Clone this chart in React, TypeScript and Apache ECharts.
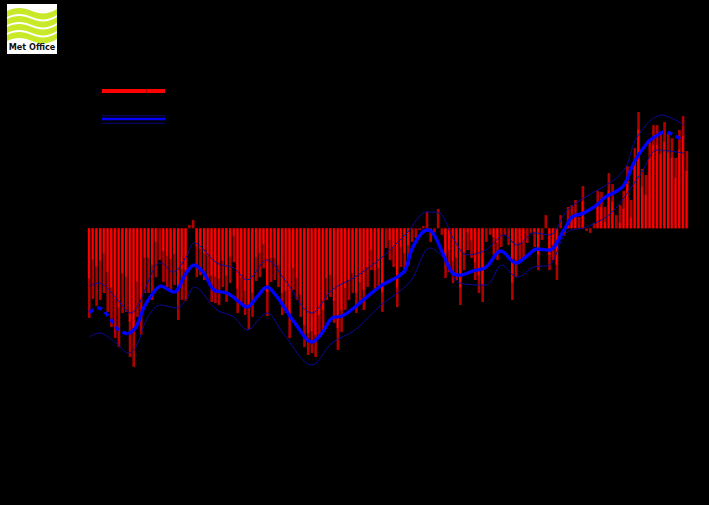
import React, { useEffect, useRef } from "react";
import * as echarts from "echarts";

// ---------- DATA ----------
const firstYear = 1850;
const lastYear = 2011;

// annual anomaly (°C, full extent of each bar)
const anomaly = [
  -0.408, -0.321, -0.353, -0.326, -0.294, -0.38, -0.449, -0.499, -0.54, -0.385,
  -0.38, -0.585, -0.63, -0.403, -0.485, -0.294, -0.294, -0.326, -0.222, -0.144,
  -0.244, -0.267, -0.28, -0.258, -0.417, -0.326, -0.33, 0.015, 0.038, -0.222,
  -0.213, -0.235, -0.244, -0.335, -0.34, -0.349, -0.267, -0.335, -0.249, -0.154,
  -0.385, -0.335, -0.394, -0.462, -0.403, -0.24, -0.222, -0.183, -0.399, -0.244,
  -0.235, -0.267, -0.394, -0.385, -0.499, -0.28, -0.326, -0.403, -0.54, -0.576,
  -0.567, -0.585, -0.494, -0.471, -0.326, -0.312, -0.43, -0.553, -0.471, -0.371,
  -0.326, -0.294, -0.385, -0.335, -0.371, -0.267, -0.19, -0.28, -0.271, -0.38,
  -0.09, -0.144, -0.176, -0.358, -0.176, -0.203, -0.167, -0.062, -0.044, -0.008,
  0.01, 0.074, -0.062, -0.017, 0.088, -0.03, -0.226, -0.199, -0.249, -0.235,
  -0.349, -0.19, -0.099, -0.135, -0.235, -0.294, -0.335, -0.062, -0.03, -0.121,
  -0.144, -0.085, -0.03, -0.076, -0.326, -0.222, -0.144, -0.144, -0.067, -0.021,
  -0.085, -0.19, -0.053, 0.06, -0.19, -0.144, -0.235, 0.06, -0.03, 0.097,
  0.106, 0.129, 0.051, 0.192, -0.012, -0.021, 0.024, 0.17, 0.165, 0.097,
  0.251, 0.201, 0.06, 0.106, 0.17, 0.283, 0.129, 0.365, 0.529, 0.27,
  0.242, 0.406, 0.469, 0.469, 0.429, 0.483, 0.433, 0.41, 0.32, 0.447,
  0.51, 0.351,
];

// uncertainty (°C) for each decade starting 1850
const uncertaintyByDecade = [
  0.18, 0.16, 0.14, 0.12, 0.11, 0.1, 0.1, 0.09, 0.09, 0.1, 0.08, 0.08, 0.07,
  0.07, 0.08, 0.09, 0.09,
];

// smoothed curve
const smoothYears = [
  1850.0, 1852.6, 1855.3, 1858.0, 1860.5, 1862.6, 1864.8, 1867.2, 1869.3,
  1872.8, 1876.1, 1878.3, 1880.9, 1883.6, 1887.1, 1889.8, 1892.5, 1895.2,
  1897.9, 1900.6, 1902.5, 1905.4, 1910.0, 1912.7, 1915.4, 1918.1, 1921.6,
  1925.4, 1928.9, 1932.9, 1935.1, 1937.2, 1941.0, 1942.6, 1945.3, 1947.7,
  1949.9, 1953.4, 1956.9, 1960.9, 1965.0, 1967.9, 1970.6, 1973.9, 1977.9,
  1980.1, 1983.3, 1986.8, 1989.0, 1991.7, 1994.1, 1996.8, 2000.3, 2002.2,
  2003.5, 2004.9, 2009.5, 2010.2,
];
const smoothValues = [
  -0.381, -0.362, -0.403, -0.463, -0.481, -0.449, -0.358, -0.294, -0.263,
  -0.29, -0.204, -0.167, -0.204, -0.28, -0.294, -0.326, -0.358, -0.312,
  -0.267, -0.312, -0.358, -0.43, -0.517, -0.476, -0.408, -0.399, -0.358,
  -0.303, -0.258, -0.222, -0.19, -0.085, -0.008, -0.021, -0.115, -0.199,
  -0.213, -0.194, -0.176, -0.103, -0.158, -0.126, -0.094, -0.099, -0.008,
  0.051, 0.07, 0.106, 0.142, 0.165, 0.197, 0.301, 0.388, 0.415,
  0.428, 0.438, 0.406, 0.401,
];

// upper bound of smoothed curve
const upperYears = [
  1850.0, 1852.6, 1855.3, 1859.9, 1861.0, 1868.0, 1869.3, 1872.6, 1876.1,
  1878.3, 1884.4, 1889.0, 1892.5, 1897.9, 1902.5, 1910.0, 1915.4, 1921.6,
  1928.9, 1935.6, 1941.0, 1944.2, 1948.3, 1951.8, 1956.9, 1961.8, 1965.3,
  1969.8, 1973.9, 1978.8, 1983.3, 1991.4, 1994.6, 1997.6, 2004.3, 2010.2,
];
const upperValues = [
  -0.262, -0.249, -0.28, -0.371, -0.385, -0.167, -0.158, -0.199, -0.131,
  -0.067, -0.158, -0.181, -0.235, -0.144, -0.23, -0.385, -0.28, -0.222,
  -0.131, -0.021, 0.074, 0.07, -0.053, -0.121, -0.099, -0.03, -0.076,
  -0.021, -0.03, 0.083, 0.138, 0.22, 0.279, 0.415, 0.515, 0.469,
];

// lower bound of smoothed curve
const lowerYears = [
  1850.0, 1852.6, 1857.2, 1860.5, 1862.6, 1865.8, 1869.3, 1873.4, 1876.1,
  1878.3, 1884.4, 1889.0, 1892.5, 1897.9, 1902.2, 1910.0, 1915.4, 1921.6,
  1928.6, 1936.4, 1941.8, 1945.3, 1949.9, 1956.9, 1961.2, 1965.3, 1969.8,
  1973.9, 1978.5, 1983.9, 1990.6, 1998.7, 2003.0, 2010.2,
];
const lowerValues = [
  -0.494, -0.476, -0.521, -0.567, -0.54, -0.403, -0.349, -0.362, -0.326,
  -0.267, -0.371, -0.403, -0.462, -0.385, -0.476, -0.621, -0.521, -0.462,
  -0.349, -0.244, -0.09, -0.131, -0.249, -0.258, -0.167, -0.222, -0.176,
  -0.167, -0.021, 0.006, 0.07, 0.251, 0.356, 0.342,
];

const dashedBefore = 1860.5;
const dashedAfter = 2003.5;

const legendLabels = ["Annual average", "Smoothed average with uncertainty range"];
const yAxisName = "Temperature difference (°C) from 1961-1990";

// ---------- LOGO SHAPE ----------
function wavePath(): string {
  const bands = [1, 9, 17, 25];
  return bands
    .map(
      (y0) =>
        `M0 ${y0 + 4} C8 ${y0} 16 ${y0} 25 ${y0 + 4} C34 ${y0 + 8} 42 ${y0 + 7} 50 ${y0 + 2} ` +
        `L50 ${y0 + 8} C42 ${y0 + 13} 34 ${y0 + 14} 25 ${y0 + 10} C16 ${y0 + 6} 8 ${y0 + 6} 0 ${y0 + 10} Z`
    )
    .join(" ");
}
let registered = false;
function registerLogo() {
  if (registered) return;
  registered = true;
  echarts.graphic.registerShape("mowave", echarts.graphic.extendPath(wavePath(), {}) as any);
}

export default function App() {
  const ref = useRef<HTMLDivElement>(null);

  useEffect(() => {
    document.body.style.margin = "0";
    document.body.style.background = "#000";
    registerLogo();
    const chart = echarts.init(ref.current as HTMLDivElement, undefined, { renderer: "svg" });

    const barData = anomaly.map((v, i) => {
      const yr = firstYear + i;
      return [yr, v, uncertaintyByDecade[Math.floor(i / 10)]];
    });
    const smoothPts = smoothYears.map((y, i) => [y, smoothValues[i]]);
    const early = smoothPts.filter((p) => p[0] <= dashedBefore);
    const middle = smoothPts.filter((p) => p[0] >= dashedBefore && p[0] <= dashedAfter);
    const late = smoothPts.filter((p) => p[0] >= dashedAfter);
    const upper = upperYears.map((y, i) => [y, upperValues[i]]);
    const lower = lowerYears.map((y, i) => [y, lowerValues[i]]);

    const thick = (data: number[][], dashed: boolean) => ({
      type: "line",
      data,
      smooth: 0.35,
      showSymbol: false,
      symbol: "none",
      z: 5,
      lineStyle: { color: "#0000ff", width: 3.4, type: dashed ? [5, 4] : "solid" },
    });
    const thin = (data: number[][]) => ({
      type: "line",
      data,
      smooth: 0.35,
      showSymbol: false,
      symbol: "none",
      z: 4,
      lineStyle: { color: "#0a0a9a", width: 1 },
    });

    chart.setOption({
      animation: false,
      backgroundColor: "#000000",
      grid: { left: 87.34, right: 20.3, top: 96.3, bottom: 100.7 },
      xAxis: {
        type: "value",
        min: firstYear - 0.5,
        max: lastYear + 0.5,
        axisLine: { lineStyle: { color: "#000" } },
        axisTick: { lineStyle: { color: "#000" } },
        axisLabel: { color: "#000", formatter: (v: number) => String(Math.round(v)) },
        splitLine: { show: false },
      },
      yAxis: {
        type: "value",
        min: -0.8,
        max: 0.6,
        interval: 0.2,
        name: yAxisName,
        nameLocation: "middle",
        nameGap: 45,
        nameTextStyle: { color: "#000" },
        axisLine: { show: true, lineStyle: { color: "#000" } },
        axisTick: { show: true, lineStyle: { color: "#000" } },
        axisLabel: { color: "#000", formatter: (v: number) => v.toFixed(1) },
        splitLine: { show: false },
      },
      series: [
        {
          type: "custom",
          data: barData,
          z: 2,
          encode: { x: 0, y: 1 },
          renderItem: (params: any, api: any) => {
            const yr = api.value(0);
            const v = api.value(1);
            const e = api.value(2);
            const base = api.coord([yr, 0]);
            const tip = api.coord([yr, v]);
            const mag = Math.max(Math.abs(v) - e, 0);
            const inner = api.coord([yr, Math.sign(v) * mag]);
            const w = api.size([1, 0])[0];
            const bw = w * 0.7;
            const x0 = base[0] - bw / 2;
            const children: any[] = [
              {
                type: "rect",
                shape: { x: x0, y: Math.min(base[1], tip[1]), width: bw, height: Math.abs(tip[1] - base[1]) },
                style: { fill: "#b00000" },
              },
            ];
            if (mag > 0) {
              children.push({
                type: "rect",
                shape: { x: x0, y: Math.min(base[1], inner[1]), width: bw * 0.72, height: Math.abs(inner[1] - base[1]) },
                style: { fill: "#ff0000" },
              });
            }
            return { type: "group", children };
          },
        },
        thin(upper),
        thin(lower),
        thick(early, true),
        thick(middle, false),
        thick(late, true),
      ],
      graphic: [
        { type: "rect", shape: { x: 7, y: 4, width: 50, height: 50 }, style: { fill: "#ffffff" } },
        { type: "mowave", x: 7, y: 6, style: { fill: "#c8e82a" } },
        {
          type: "text",
          x: 32,
          y: 47,
          style: {
            text: "Met Office",
            fill: "#111111",
            font: "bold 9px 'DejaVu Sans Condensed', 'Liberation Sans'",
            align: "center",
            verticalAlign: "middle",
          },
        },
        { type: "rect", shape: { x: 102, y: 89, width: 63, height: 4 }, style: { fill: "#ff0000" } },
        { type: "line", shape: { x1: 146.5, y1: 89, x2: 146.5, y2: 93 }, style: { stroke: "#b00000", lineWidth: 1 } },
        { type: "line", shape: { x1: 102, y1: 119, x2: 165, y2: 119 }, style: { stroke: "#0000ff", lineWidth: 2.5 } },
        { type: "line", shape: { x1: 102, y1: 115.7, x2: 165, y2: 115.7 }, style: { stroke: "#0a0a9a", lineWidth: 0.8 } },
        { type: "line", shape: { x1: 102, y1: 123.3, x2: 165, y2: 123.3 }, style: { stroke: "#0a0a9a", lineWidth: 0.8 } },
        {
          type: "text",
          x: 172,
          y: 91,
          style: { text: legendLabels[0], fill: "#000", font: "12px 'Liberation Sans'", verticalAlign: "middle" },
        },
        {
          type: "text",
          x: 172,
          y: 119,
          style: { text: legendLabels[1], fill: "#000", font: "12px 'Liberation Sans'", verticalAlign: "middle" },
        },
      ],
    });

    return () => chart.dispose();
  }, []);

  return <div ref={ref} style={{ width: 709, height: 505 }} />;
}
